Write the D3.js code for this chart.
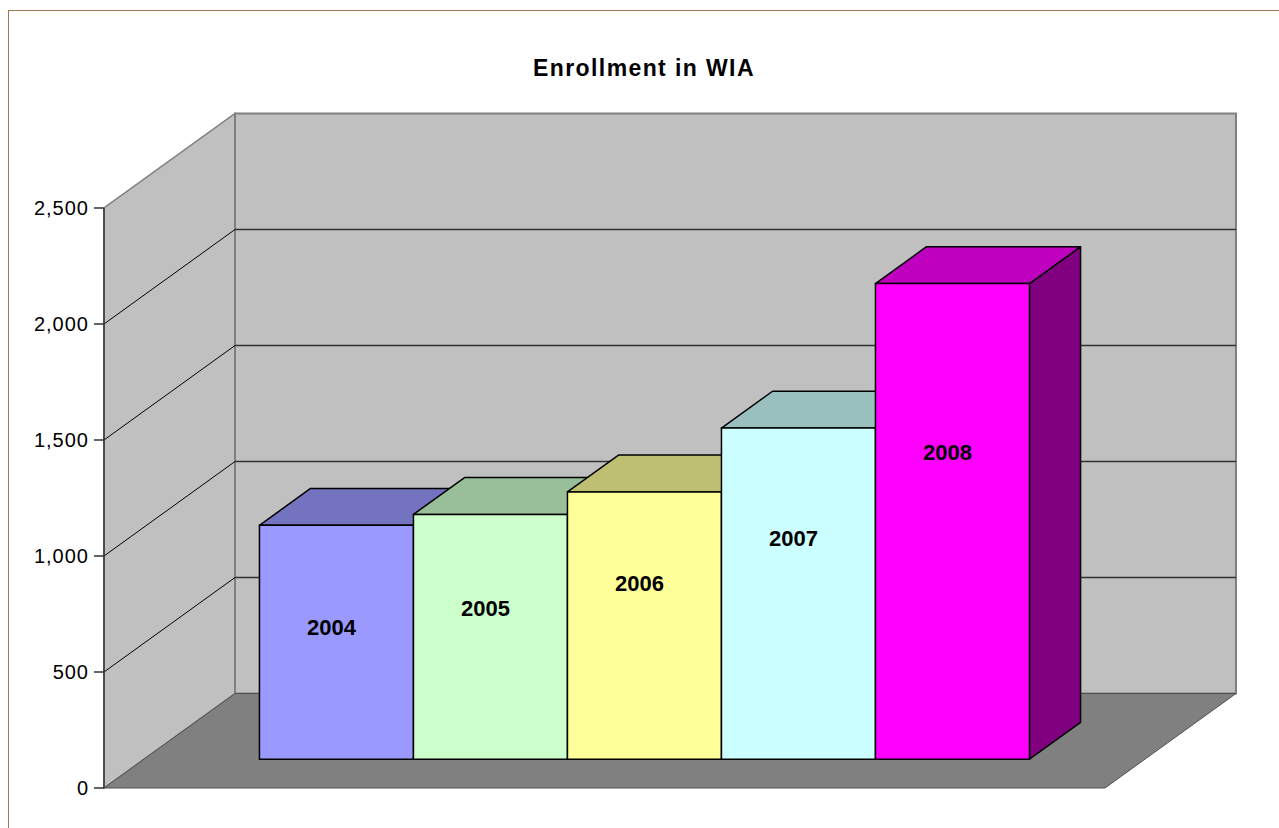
<!DOCTYPE html>
<meta charset="utf-8">
<script src="https://d3js.org/d3.v7.min.js"></script>
<body style="margin:0;background:#fff">
<div id="my_dataviz"></div>
<script>

// chart data
var years = ["2004", "2005", "2006", "2007", "2008"]
var enrollment = [1008, 1055, 1152, 1427, 2050]
var barColors = ["#9999ff", "#ccffcc", "#ffff99", "#ccffff", "#ff00ff"]
var yTicks = [0, 500, 1000, 1500, 2000, 2500]

var width = 1279, height = 828
var svg = d3.select("#my_dataviz")
  .append("svg")
    .attr("width", width)
    .attr("height", height)
    .style("display", "block")

// outer frame
svg.append("rect")
  .attr("x", 8.5).attr("y", 10.5)
  .attr("width", 1300).attr("height", 900)
  .attr("fill", "white")
  .attr("stroke", "#a07850")

svg.append("text")
  .attr("x", 644).attr("y", 76)
  .attr("text-anchor", "middle")
  .style("font-family", "Liberation Sans, Arial, sans-serif")
  .style("font-weight", "bold")
  .style("font-size", "23px")
  .style("letter-spacing", "1.4px")
  .text("Enrollment in WIA")

// front plane scales + oblique depth
var x = d3.scaleBand().domain(years).range([104, 1105]).paddingInner(0).paddingOuter(0.75)
var y = d3.scaleLinear().domain([0, 2500]).range([788, 208])
var depthX = 131, depthY = -94.5
function proj(px, py, f) { return [px + f * depthX, py + f * depthY] }

var line = d3.line()

// left wall
svg.append("path")
  .attr("d", line([proj(104, y(0), 0), proj(104, y(2500), 0), proj(104, y(2500), 1), proj(104, y(0), 1)]) + "Z")
  .attr("fill", "#c0c0c0").attr("stroke", "#808080").attr("stroke-width", 1.5)

// back wall
svg.append("path")
  .attr("d", line([proj(104, y(0), 1), proj(104, y(2500), 1), proj(1105, y(2500), 1), proj(1105, y(0), 1)]) + "Z")
  .attr("fill", "#c0c0c0").attr("stroke", "#808080").attr("stroke-width", 2)

// floor
svg.append("path")
  .attr("d", line([proj(104, y(0), 0), proj(1105, y(0), 0), proj(1105, y(0), 1), proj(104, y(0), 1)]) + "Z")
  .attr("fill", "#808080").attr("stroke", "#505050").attr("stroke-width", 1)

// gridlines
var grid = yTicks.filter(function(d){ return d > 0 && d < 2500 })
svg.selectAll(".gridSide")
  .data(grid)
  .enter()
  .append("path")
    .attr("d", function(d){ return line([proj(104, y(d), 0), proj(104, y(d), 1)]) })
    .attr("stroke", "#000").attr("stroke-width", 1).attr("fill", "none")
svg.selectAll(".gridBack")
  .data(grid)
  .enter()
  .append("path")
    .attr("d", function(d){ return line([proj(104, y(d), 1), proj(1105, y(d), 1)]) })
    .attr("stroke", "#333").attr("stroke-width", 1.5).attr("fill", "none")

// y axis
svg.append("line")
  .attr("x1", 104).attr("x2", 104).attr("y1", y(2500)).attr("y2", y(0))
  .attr("stroke", "#333").attr("stroke-width", 1.5)
svg.selectAll(".tick")
  .data(yTicks)
  .enter()
  .append("line")
    .attr("x1", 94).attr("x2", 104)
    .attr("y1", function(d){ return y(d) }).attr("y2", function(d){ return y(d) })
    .attr("stroke", "#333").attr("stroke-width", 1.5)
svg.selectAll(".tickLabel")
  .data(yTicks)
  .enter()
  .append("text")
    .attr("x", 89)
    .attr("y", function(d){ return y(d) })
    .attr("dy", "0.35em")
    .attr("text-anchor", "end")
    .style("font-family", "Liberation Sans, Arial, sans-serif")
    .style("font-size", "20px")
    .style("letter-spacing", "1px")
    .text(function(d){ return d3.format(",")(d) })

// bars
var f0 = 0.305, f1 = 0.695
function shade(c, k) {
  var r = d3.rgb(c)
  return d3.rgb(r.r * k, r.g * k, r.b * k)
}
var bars = svg.selectAll(".bar")
  .data(years)
  .enter()
  .append("g")

bars.each(function(d, i) {
  var g = d3.select(this)
  var xl = x(d), xr = x(d) + x.bandwidth()
  var yb = y(0), yt = y(enrollment[i])
  var c = barColors[i]
  // right side
  g.append("path")
    .attr("d", line([proj(xr, yb, f0), proj(xr, yt, f0), proj(xr, yt, f1), proj(xr, yb, f1)]) + "Z")
    .attr("fill", shade(c, 0.5)).attr("stroke", "#000").attr("stroke-width", 1.5).attr("stroke-linejoin", "round")
  // top
  g.append("path")
    .attr("d", line([proj(xl, yt, f0), proj(xr, yt, f0), proj(xr, yt, f1), proj(xl, yt, f1)]) + "Z")
    .attr("fill", shade(c, 0.75)).attr("stroke", "#000").attr("stroke-width", 1.5).attr("stroke-linejoin", "round")
  // front
  g.append("path")
    .attr("d", line([proj(xl, yb, f0), proj(xr, yb, f0), proj(xr, yt, f0), proj(xl, yt, f0)]) + "Z")
    .attr("fill", c).attr("stroke", "#000").attr("stroke-width", 1.5)
})

// series labels: mid of front face, drifting upward toward the right like the original
bars.append("text")
  .attr("x", function(d){ return proj(x(d) + x.bandwidth() / 2, 0, f0)[0] - 5 })
  .attr("y", function(d, i){ return proj(0, y(enrollment[i] / 2), f0)[1] - 15 - 13.5 * i })
  .attr("dy", "0.35em")
  .attr("text-anchor", "middle")
  .style("font-family", "Liberation Sans, Arial, sans-serif")
  .style("font-weight", "bold")
  .style("font-size", "22px")
  .text(function(d){ return d })

</script>
</body>
